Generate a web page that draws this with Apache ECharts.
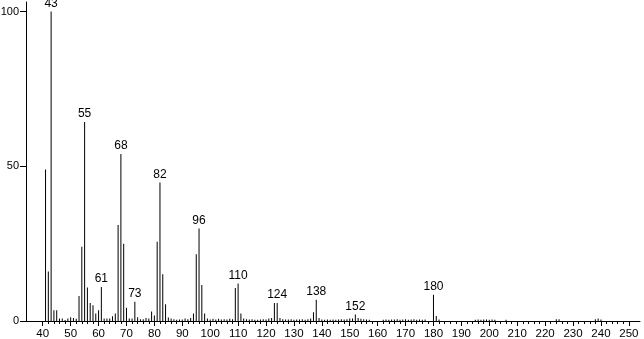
<!DOCTYPE html>
<html>
<head>
<meta charset="utf-8">
<script src="https://cdn.jsdelivr.net/npm/echarts@6/dist/echarts.min.js"></script>
<style>html,body{margin:0;padding:0;background:#fff;}#c{width:644px;height:339px;}</style>
</head>
<body>
<div id="c"></div>
<script>
// m/z values and relative intensities
const masses = [41,42,43,44,45,46,47,48,49,50,51,52,53,54,55,56,57,58,59,60,
  61,62,63,64,65,66,67,68,69,70,71,72,73,74,75,76,77,78,79,80,
  81,82,83,84,85,86,87,88,89,90,91,92,93,94,95,96,97,98,99,100,
  101,102,103,104,105,106,107,108,109,110,111,112,113,114,115,116,117,118,119,120,
  121,122,123,124,125,126,127,128,129,130,131,132,133,134,135,136,137,138,139,140,
  141,142,143,144,145,146,147,148,149,150,151,152,153,154,155,156,157,
  162,163,164,165,166,167,168,169,170,171,172,173,174,175,176,177,
  180,181,182,195,196,197,198,199,200,201,202,206,224,225,238,239,240];
const intensities = [49,16,100,3.5,3.5,0.8,0.8,0.3,0.8,1.2,1.0,0.7,8.1,24,64.3,10.8,5.8,5.1,2.4,3.5,
  11,0.8,0.8,0.8,1.5,2.4,31,54,25,4.3,0.8,0.8,6.2,1.2,0.6,0.6,1.0,0.8,3.1,1.8,
  25.6,44.8,15.1,5.4,1.1,0.8,0.6,0.4,0.5,0.5,0.8,0.6,1.0,2.4,21.6,29.9,11.6,2.4,0.8,0.5,
  0.7,0.5,0.7,0.5,0.6,0.5,0.7,0.6,10.7,12.1,2.4,0.8,0.6,0.5,0.6,0.4,0.4,0.5,0.6,0.5,
  0.8,1.0,5.8,5.8,1.0,0.6,0.5,0.5,0.6,0.4,0.5,0.5,0.6,0.4,0.6,0.8,2.8,6.9,1.0,0.5,
  0.4,0.5,0.4,0.5,0.4,0.5,0.6,0.5,0.6,0.8,0.8,2.1,1.0,0.7,0.6,0.5,0.4,
  0.4,0.5,0.4,0.5,0.5,0.6,0.4,0.5,0.6,0.4,0.5,0.6,0.4,0.5,0.4,0.5,
  8.5,1.6,0.5,0.4,0.5,0.4,0.5,0.5,0.4,0.5,0.4,0.4,0.6,0.6,0.6,0.8,0.5];
const labeledMasses = [43,55,61,68,73,82,96,110,124,138,152,180];
const xTicks = [40,50,60,70,80,90,100,110,120,130,140,150,160,170,180,190,200,210,220,230,240,250];
const xMinorTicks = [];
for (let v = 40; v <= 250; v += 2) xMinorTicks.push(v);
const yTicks = [0,50,100];

const font = 'Liberation Sans, Arial, sans-serif';
const data = masses.map((m, i) => {
  const item = { value: [m, intensities[i]] };
  if (labeledMasses.includes(m)) {
    item.label = { show: true, position: 'top', distance: 2, formatter: String(m),
      color: '#000', fontSize: 12, fontFamily: font };
  }
  return item;
});

const chart = echarts.init(document.getElementById('c'), null, { renderer: 'canvas' });
const gridPos = { left: 26, right: 4, top: 2, bottom: 18, containLabel: false, outerBoundsMode: 'none' };
chart.setOption({
  animation: false,
  backgroundColor: '#fff',
  grid: [Object.assign({}, gridPos), Object.assign({}, gridPos)],
  xAxis: [{
    type: 'value', gridIndex: 0, min: 34, max: 254,
    splitLine: { show: false },
    axisLine: { show: true, lineStyle: { color: '#000', width: 1 } },
    axisTick: { show: true, length: 5, customValues: xTicks, lineStyle: { color: '#000' } },
    axisLabel: { show: true, customValues: xTicks, margin: 7, color: '#000', fontSize: 11.5, fontFamily: font }
  }, {
    type: 'value', gridIndex: 1, min: 34, max: 254,
    splitLine: { show: false },
    axisLine: { show: false },
    axisTick: { show: true, length: 3, customValues: xMinorTicks, lineStyle: { color: '#000' } },
    axisLabel: { show: false }
  }],
  yAxis: [{
    type: 'value', gridIndex: 0, min: 0, max: 103.1,
    splitLine: { show: false },
    axisLine: { show: true, lineStyle: { color: '#000', width: 1 } },
    axisTick: { show: true, length: 6, customValues: yTicks, lineStyle: { color: '#000' } },
    axisLabel: { show: true, customValues: yTicks, margin: 7, color: '#000', fontSize: 11, fontFamily: font }
  }, {
    type: 'value', gridIndex: 1, min: 0, max: 103.1, show: false
  }],
  series: [{
    type: 'bar', xAxisIndex: 0, yAxisIndex: 0,
    barWidth: 1,
    itemStyle: { color: '#000' },
    data: data
  }]
});
</script>
</body>
</html>
